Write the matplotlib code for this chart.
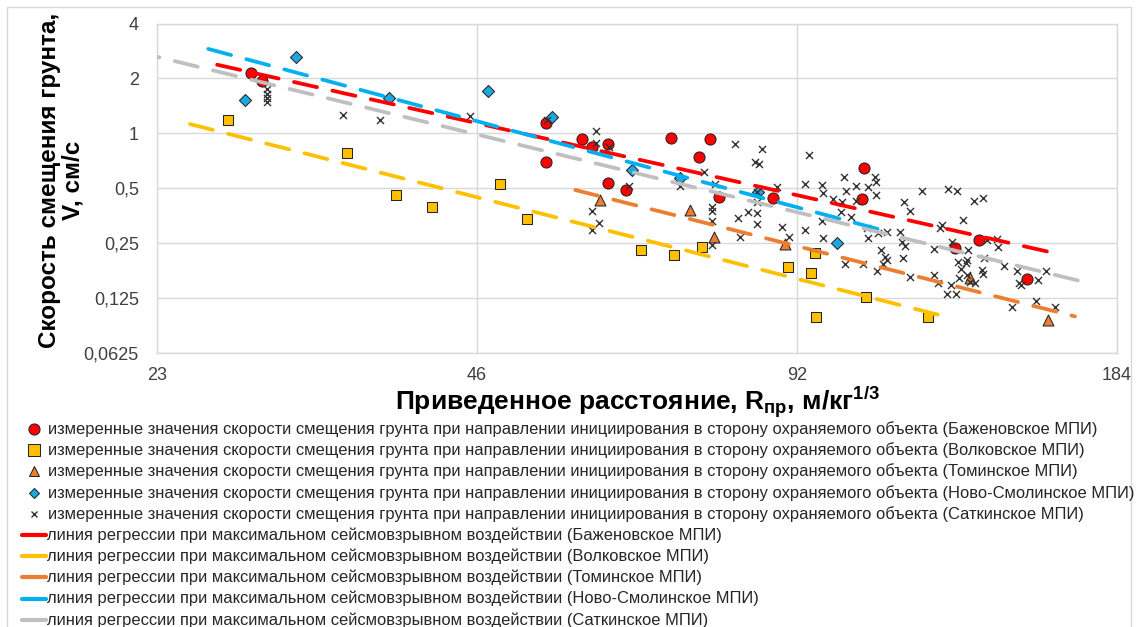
import numpy as np
import matplotlib
matplotlib.use("Agg")
import matplotlib.pyplot as plt
from matplotlib.lines import Line2D
from matplotlib.patches import Rectangle

plt.rcParams['font.family'] = ['Liberation Sans', 'DejaVu Sans']
plt.rcParams['mathtext.fontset'] = 'custom'
plt.rcParams['mathtext.rm'] = 'Liberation Sans'
plt.rcParams['mathtext.bf'] = 'Liberation Sans:bold'
plt.rcParams['mathtext.it'] = 'Liberation Sans:italic'

# ---- axis ticks ----
x_ticks = [23, 46, 92, 184]
x_tick_labels = ["23", "46", "92", "184"]
y_ticks = [0.0625, 0.125, 0.25, 0.5, 1, 2, 4]
y_tick_labels = ["0,0625", "0,125", "0,25", "0,5", "1", "2", "4"]

deposits = ["Баженовское МПИ", "Волковское МПИ", "Томинское МПИ",
            "Ново-Смолинское МПИ", "Саткинское МПИ"]

# ---- measured values: reduced distance R (m/kg^1/3), velocity V (cm/s) ----
bazh_r = [28.2, 28.9, 53.4, 53.4, 57.8, 59.0, 61.1, 61.1, 63.5, 70.0,
          74.4, 76.2, 77.7, 87.3, 106.4, 105.9, 129.6, 136.5, 151.4]
bazh_v = [2.14, 1.94, 1.14, 0.70, 0.93, 0.84, 0.876, 0.536, 0.49, 0.945,
          0.744, 0.933, 0.449, 0.444, 0.647, 0.438, 0.236, 0.26, 0.16]

volk_r = [26.8, 34.7, 38.6, 41.7, 48.3, 51.3, 65.6, 70.5, 74.9, 90.2,
          94.8, 95.7, 95.9, 106.8, 122.2]
volk_v = [1.19, 0.78, 0.46, 0.396, 0.529, 0.34, 0.23, 0.216, 0.239, 0.184,
          0.172, 0.222, 0.098, 0.127, 0.098]

tom_r = [60.0, 73.0, 76.9, 89.7, 133.8, 158.4]
tom_v = [0.43, 0.38, 0.27, 0.248, 0.162, 0.095]

nsm_r = [27.8, 31.1, 38.0, 47.1, 54.1, 64.4, 71.4, 84.5, 100.3]
nsm_v = [1.525, 2.62, 1.565, 1.71, 1.23, 0.631, 0.571, 0.475, 0.252]

sat_r = [29.2, 29.2, 29.2, 29.2, 34.4, 37.3, 45.3, 53.5, 59.5, 59.5,
         61.2, 63.9, 71.4, 75.2, 77.0, 80.4, 85.3, 84.0, 84.8, 88.1,
         84.3, 59.0, 59.9, 59.0, 76.5, 76.5, 76.5, 76.5, 81.0, 81.3,
         82.7, 84.3, 84.3, 84.3, 89.1, 90.4, 94.4, 93.6, 97.1, 97.3,
         101.9, 102.3, 104.5, 107.3, 109.0, 109.2, 109.2, 99.5, 101.4, 104.5,
         101.2, 103.4, 107.0, 107.3, 109.6, 111.8, 110.3, 111.3, 111.8, 110.8,
         109.4, 106.1, 102.1, 97.3, 93.6, 97.1, 116.0, 117.5, 120.6, 127.6,
         130.1, 135.0, 137.6, 131.8, 126.0, 125.4, 115.0, 115.5, 116.2, 115.7,
         128.7, 123.8, 133.2, 138.8, 141.9, 142.2, 130.4, 131.2, 132.7, 133.0,
         130.7, 133.0, 135.3, 133.8, 137.3, 137.6, 123.8, 124.8, 128.4, 127.3,
         129.8, 144.1, 148.2, 148.8, 149.4, 155.1, 157.8, 146.6, 154.4, 160.9,
         117.5, 138.0]
sat_v = [1.75, 1.645, 1.565, 1.49, 1.26, 1.185, 1.25, 1.185, 1.03, 0.887,
         0.844, 0.516, 0.516, 0.616, 0.529, 0.876, 0.823, 0.698, 0.681, 0.51,
         0.479, 0.376, 0.323, 0.296, 0.396, 0.376, 0.33, 0.245, 0.345, 0.271,
         0.372, 0.418, 0.367, 0.320, 0.308, 0.271, 0.763, 0.529, 0.523, 0.472,
         0.578, 0.485, 0.516, 0.51, 0.578, 0.543, 0.461, 0.438, 0.418, 0.423,
         0.372, 0.349, 0.304, 0.268, 0.286, 0.288, 0.230, 0.211, 0.203, 0.191,
         0.177, 0.191, 0.193, 0.268, 0.296, 0.330, 0.418, 0.376, 0.485, 0.497,
         0.485, 0.428, 0.444, 0.336, 0.316, 0.304, 0.288, 0.255, 0.242, 0.207,
         0.255, 0.233, 0.230, 0.260, 0.263, 0.239, 0.196, 0.181, 0.194, 0.203,
         0.162, 0.168, 0.152, 0.154, 0.179, 0.170, 0.168, 0.152, 0.148, 0.131,
         0.131, 0.188, 0.175, 0.152, 0.147, 0.158, 0.175, 0.112, 0.120, 0.112,
         0.164, 0.207]

# ---- regression lines V = K * R^(-n) ----
reg_k = [172.0, 131.5, 189.0, 470.0, 222.0]
reg_n = [1.311, 1.485, 1.474, 1.567, 1.415]
reg_rmin = [26.2, 24.7, 56.9, 25.7, 22.0]
reg_rmax = [159.8, 127.0, 168.0, 111.1, 170.7]
reg_colors = ["#FF0000", "#FFC000", "#ED7D31", "#00B0F0", "#BFBFBF"]

W, H = 1138, 627
fig = plt.figure(figsize=(W / 100, H / 100), dpi=100)
fig.patch.set_facecolor("white")

# outer chart frame
fig.add_artist(Rectangle((7 / W, -0.1), 1124 / W, 1.1 - 7 / H,
                         transform=fig.transFigure, fill=False,
                         edgecolor="#D9D9D9", lw=1.0))

ax = fig.add_axes([157 / W, 1 - 353 / H, 960 / W, 329.5 / H])
ax.set_xscale("log", base=2)
ax.set_yscale("log", base=2)
ax.set_xlim(23, 184)
ax.set_ylim(0.0625, 4)
ax.set_xticks(x_ticks)
ax.set_xticklabels(x_tick_labels)
ax.set_yticks(y_ticks)
ax.set_yticklabels(y_tick_labels)
ax.minorticks_off()
ax.tick_params(axis="both", length=0, labelsize=13, colors="#404040")
ax.tick_params(axis="x", pad=10)
ax.tick_params(axis="y", pad=13)
ax.grid(True, color="#D9D9D9", lw=1.0)
ax.set_axisbelow(True)
for sp in ax.spines.values():
    sp.set_color("#D9D9D9")
    sp.set_linewidth(1.0)

edge = "#262626"
ax.scatter(bazh_r, bazh_v, marker="o", s=64, facecolor="#FF0000",
           edgecolor=edge, linewidth=0.75, zorder=3)
ax.scatter(volk_r, volk_v, marker="s", s=62, facecolor="#FFC000",
           edgecolor=edge, linewidth=0.75, zorder=3)
ax.scatter(tom_r, tom_v, marker="^", s=62, facecolor="#ED7D31",
           edgecolor=edge, linewidth=0.75, zorder=3)
ax.scatter(nsm_r, nsm_v, marker="D", s=38, facecolor="#1CA8E0",
           edgecolor=edge, linewidth=0.75, zorder=3)
ax.scatter(sat_r, sat_v, marker="x", s=26, color="#333333",
           linewidth=1.0, zorder=3)

for k, n, r0, r1, c in zip(reg_k, reg_n, reg_rmin, reg_rmax, reg_colors):
    r = np.geomspace(r0, r1, 60)
    ax.plot(r, k * r ** (-n), color=c, lw=2.7, linestyle=(0, (6.3, 4.2)),
            dash_capstyle="round", zorder=4)

# axis titles
fig.text(637 / W, 1 - 402 / H,
         r"Приведенное расстояние, R$_{\mathbf{пр}}$, м/кг$^{\mathbf{1/3}}$",
         ha="center", va="center", fontsize=19, fontweight="bold")
fig.text(61.5 / W, 1 - 180 / H, "Скорость смещения грунта,\nV, см/с",
         rotation=90, ha="center", va="center", fontsize=17.5,
         fontweight="bold", linespacing=1.05)

# ---- legend ----
pt_labels = ["измеренные значения скорости смещения грунта при направлении "
             "инициирования в сторону охраняемого объекта (" + d + ")"
             for d in deposits]
ln_labels = ["линия регрессии при максимальном сейсмовзрывном воздействии ("
             + d + ")" for d in deposits]
pt_styles = [dict(marker="o", markersize=8, markerfacecolor="#FF0000",
                  markeredgecolor=edge, markeredgewidth=0.75),
             dict(marker="s", markersize=8, markerfacecolor="#FFC000",
                  markeredgecolor=edge, markeredgewidth=0.75),
             dict(marker="^", markersize=7.5, markerfacecolor="#ED7D31",
                  markeredgecolor=edge, markeredgewidth=0.75),
             dict(marker="D", markersize=5.5, markerfacecolor="#1CA8E0",
                  markeredgecolor=edge, markeredgewidth=0.75),
             dict(marker="x", markersize=5, markeredgecolor="#333333",
                  markeredgewidth=1.0)]

row0, pitch = 429, 21.2
leg_fs = 11.9
for i, (lab, st) in enumerate(zip(pt_labels, pt_styles)):
    y = 1 - (row0 + pitch * i) / H
    fig.add_artist(Line2D([34 / W], [y], linestyle="none",
                          transform=fig.transFigure, **st))
    fig.text(48 / W, y, lab, ha="left", va="center", fontsize=leg_fs,
             color="#262626")
for j, (lab, c) in enumerate(zip(ln_labels, reg_colors)):
    y = 1 - (row0 + pitch * (5 + j)) / H
    fig.add_artist(Line2D([22 / W, 46 / W], [y, y], color=c, lw=3,
                          transform=fig.transFigure, solid_capstyle="round"))
    fig.text(47 / W, y, lab, ha="left", va="center", fontsize=leg_fs,
             color="#262626")

fig.savefig("out.png", dpi=100)
